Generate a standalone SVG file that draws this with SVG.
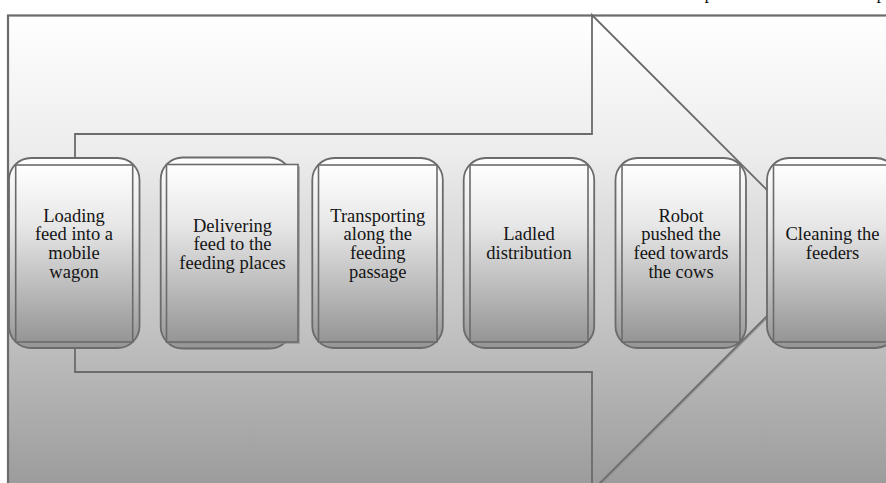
<svg xmlns="http://www.w3.org/2000/svg" width="886" height="483" viewBox="0 0 886 483" font-family="'Liberation Serif', 'Times New Roman', serif">
  <style>
    .ln { stroke: #6b6b6b; stroke-width: 1.8; }
    .card { fill: url(#cardGrad); stroke: #6b6b6b; stroke-width: 1.8; }
    .inner { fill: url(#cardGrad); stroke: #6b6b6b; stroke-width: 1.6; }
    .lbl { font-family: 'Liberation Serif', 'Times New Roman', serif; font-size: 18.5px; fill: #141414; text-anchor: middle; }
  </style>
  <defs>
    <linearGradient id="bgGrad" gradientUnits="userSpaceOnUse" x1="0" y1="15" x2="0" y2="483">
      <stop offset="0" stop-color="#ffffff"/>
      <stop offset="0.3" stop-color="#ececec"/>
      <stop offset="1" stop-color="#9c9c9c"/>
    </linearGradient>
    <linearGradient id="cardGrad" x1="0" y1="0" x2="0" y2="1">
      <stop offset="0" stop-color="#ffffff"/>
      <stop offset="0.35" stop-color="#e6e6e6"/>
      <stop offset="1" stop-color="#959595"/>
    </linearGradient>
  </defs>

  <rect x="0" y="0" width="886" height="483" fill="#ffffff"/>

  <!-- cut-off caption descenders at top -->
  <text class="lbl" x="709" y="-1">p</text>
  <text class="lbl" x="881" y="-1">p</text>

  <!-- background panel -->
  <rect id="panel" x="8" y="15.5" width="890" height="480" fill="url(#bgGrad)" stroke="#6b6b6b" stroke-width="2.2"/>

  <!-- big arrow shape -->
  <g id="connectors">
    <polygon id="arrow" points="75,134 592,134 592,15 830,253 592,491 592,372 75,372" fill="none" class="ln"/>
    <line x1="767" y1="318" x2="601" y2="484" stroke="#8a8a8a" stroke-width="1.2"/>
  </g>

  <!-- node 1 -->
  <g id="node1">
    <rect class="card" x="9" y="158" width="130.5" height="190" rx="22" ry="22"/>
    <rect class="inner" x="15.7" y="165" width="117" height="177"/>
    <text class="lbl" x="74" y="221.7">Loading</text>
    <text class="lbl" x="74" y="240.4">feed into a</text>
    <text class="lbl" x="74" y="259.1">mobile</text>
    <text class="lbl" x="74" y="277.8">wagon</text>
  </g>

  <!-- node 2 -->
  <g id="node2">
    <rect class="card" x="160.7" y="157.5" width="131" height="191" rx="22" ry="22"/>
    <rect x="168.5" y="166.5" width="131.5" height="177.5" fill="#8c8c8c" opacity="0.6"/>
    <rect class="inner" x="166.5" y="164.5" width="131.5" height="177.5"/>
    <text class="lbl" x="232.5" y="231.7">Delivering</text>
    <text class="lbl" x="232.5" y="250.4">feed to the</text>
    <text class="lbl" x="232.5" y="269.1">feeding places</text>
  </g>

  <!-- node 3 -->
  <g id="node3">
    <rect class="card" x="312.3" y="158" width="130.5" height="190" rx="22" ry="22"/>
    <rect class="inner" x="318.5" y="165" width="118.5" height="177"/>
    <text class="lbl" x="377.7" y="221.7">Transporting</text>
    <text class="lbl" x="377.7" y="240.4">along the</text>
    <text class="lbl" x="377.7" y="259.1">feeding</text>
    <text class="lbl" x="377.7" y="277.8">passage</text>
  </g>

  <!-- node 4 -->
  <g id="node4">
    <rect class="card" x="463.7" y="158" width="130.5" height="190" rx="22" ry="22"/>
    <rect class="inner" x="470" y="165" width="118" height="177"/>
    <text class="lbl" x="529" y="240.4">Ladled</text>
    <text class="lbl" x="529" y="259.1">distribution</text>
  </g>

  <!-- node 5 -->
  <g id="node5">
    <rect class="card" x="615.5" y="158" width="130.5" height="190" rx="22" ry="22"/>
    <rect class="inner" x="622" y="165" width="118" height="177"/>
    <text class="lbl" x="681" y="221.7">Robot</text>
    <text class="lbl" x="681" y="240.4">pushed the</text>
    <text class="lbl" x="681" y="259.1">feed towards</text>
    <text class="lbl" x="681" y="277.8">the cows</text>
  </g>

  <!-- node 6 -->
  <g id="node6">
    <rect class="card" x="767" y="158" width="130.5" height="190" rx="22" ry="22"/>
    <rect class="inner" x="773.5" y="165" width="118" height="177"/>
    <text class="lbl" x="832.5" y="240.4">Cleaning the</text>
    <text class="lbl" x="832.5" y="259.1">feeders</text>
  </g>
</svg>
